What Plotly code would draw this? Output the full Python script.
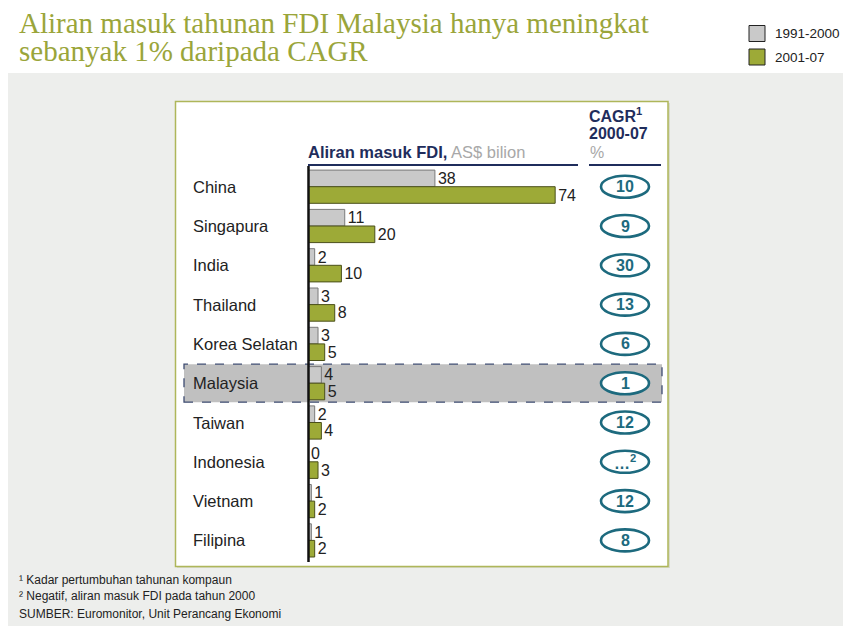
import plotly.graph_objects as go

countries = ["China", "Singapura", "India", "Thailand", "Korea Selatan",
             "Malaysia", "Taiwan", "Indonesia", "Vietnam", "Filipina"]
fdi_1991_2000 = [38, 11, 2, 3, 3, 4, 2, 0, 1, 1]
fdi_2001_07 = [74, 20, 10, 8, 5, 5, 4, 3, 2, 2]
cagr_labels = ["10", "9", "30", "13", "6", "1", "12", "…<sup>2</sup>", "12", "8"]
series_names = ["1991-2000", "2001-07"]

W, H = 843, 626
def px(x):
    return x / W
def py(y):
    return 1 - y / H

GRAY = "#C9C9C9"
GREEN = "#9DAA37"
NAVY = "#1F2D5C"
TEAL = "#1D6A7E"
OLIVE = "#9AA53A"
BG = "#EDEEEC"
FONT = "Liberation Sans, Arial"

X0, SCALE, XMAX = 308, 3.34, 80
ROW0, ROWSTEP = 186.7, 39.3
ytop = ROW0 - ROWSTEP / 2
ybot = ROW0 + 9 * ROWSTEP + ROWSTEP / 2

fig = go.Figure()
fig.add_trace(go.Bar(
    y=countries, x=fdi_1991_2000, orientation="h", name=series_names[0],
    marker=dict(color=GRAY, line=dict(color="#7A7A7A", width=1)),
    text=[str(v) for v in fdi_1991_2000], textposition="outside",
    textfont=dict(family=FONT, size=16, color="#222222"),
    cliponaxis=False, constraintext="none", hoverinfo="skip"))
fig.add_trace(go.Bar(
    y=countries, x=fdi_2001_07, orientation="h", name=series_names[1],
    marker=dict(color=GREEN, line=dict(color="#4A4F1A", width=1)),
    text=[str(v) for v in fdi_2001_07], textposition="outside",
    textfont=dict(family=FONT, size=16, color="#222222"),
    cliponaxis=False, constraintext="none", hoverinfo="skip"))

shapes = []
annotations = []

# background
shapes.append(dict(type="rect", xref="paper", yref="paper", x0=px(8), x1=1.05,
                   y0=-0.05, y1=py(73), fillcolor=BG, line=dict(width=0), layer="below"))
# panel shadow + panel
shapes.append(dict(type="rect", xref="paper", yref="paper", x0=px(177), x1=px(670),
                   y0=py(568), y1=py(103), fillcolor="#D8DBCB", line=dict(width=0), layer="below"))
shapes.append(dict(type="rect", xref="paper", yref="paper", x0=px(175.5), x1=px(668),
                   y0=py(566.5), y1=py(101.5), fillcolor="white",
                   line=dict(color="#AEB65A", width=1.5), layer="below"))
# Malaysia highlight
mi = countries.index("Malaysia")
my = ROW0 + mi * ROWSTEP
shapes.append(dict(type="rect", xref="paper", yref="paper", x0=px(184), x1=px(662),
                   y0=py(my + 19), y1=py(my - 19), fillcolor="#C0C0C0",
                   line=dict(color="#3E4C72", width=1.3, dash="dash"), layer="below"))
# header lines
shapes.append(dict(type="line", xref="paper", yref="paper", x0=px(308), x1=px(578),
                   y0=py(165), y1=py(165), line=dict(color=NAVY, width=2)))
shapes.append(dict(type="line", xref="paper", yref="paper", x0=px(589), x1=px(661),
                   y0=py(165), y1=py(165), line=dict(color=NAVY, width=2)))
# axis line
shapes.append(dict(type="line", xref="paper", yref="paper", x0=px(308.5), x1=px(308.5),
                   y0=py(166), y1=py(562), line=dict(color="#111111", width=2.5)))

# header texts
annotations.append(dict(x=px(306), y=py(152), xref="paper", yref="paper", xanchor="left",
                        yanchor="middle", showarrow=False,
                        text="<b>Aliran masuk FDI,</b> <span style='color:#A8A8A8'>AS$ bilion</span>",
                        font=dict(family=FONT, size=16.5, color=NAVY)))
annotations.append(dict(x=px(587), y=py(115), xref="paper", yref="paper", xanchor="left",
                        yanchor="middle", showarrow=False, text="<b>CAGR<sup>1</sup></b>",
                        font=dict(family=FONT, size=16, color=NAVY)))
annotations.append(dict(x=px(587), y=py(133), xref="paper", yref="paper", xanchor="left",
                        yanchor="middle", showarrow=False, text="<b>2000-07</b>",
                        font=dict(family=FONT, size=16, color=NAVY)))
annotations.append(dict(x=px(588), y=py(152), xref="paper", yref="paper", xanchor="left",
                        yanchor="middle", showarrow=False, text="%",
                        font=dict(family=FONT, size=16, color="#A8A8A8")))

# country labels and CAGR ellipses
for i, (c, g) in enumerate(zip(countries, cagr_labels)):
    yc = ROW0 + i * ROWSTEP
    annotations.append(dict(x=px(191), y=py(yc), xref="paper", yref="paper", xanchor="left",
                            yanchor="middle", showarrow=False, text=c,
                            font=dict(family=FONT, size=16.5, color="#222222")))
    shapes.append(dict(type="circle", xref="paper", yref="paper", x0=px(601), x1=px(649),
                       y0=py(yc + 11), y1=py(yc - 11), fillcolor="white",
                       line=dict(color=TEAL, width=2.6)))
    annotations.append(dict(x=px(625), y=py(yc), xref="paper", yref="paper", xanchor="center",
                            yanchor="middle", showarrow=False, text="<b>" + g + "</b>",
                            font=dict(family=FONT, size=16, color=TEAL)))

# title (two lines)
title_lines = ["Aliran masuk tahunan FDI Malaysia hanya meningkat", "sebanyak 1% daripada CAGR"]
for t, yc in zip(title_lines, [23, 51]):
    annotations.append(dict(x=px(17), y=py(yc), xref="paper", yref="paper", xanchor="left",
                            yanchor="middle", showarrow=False, text=t,
                            font=dict(family="Liberation Serif, serif", size=29, color=OLIVE)))

# legend
leg_cols = [GRAY, GREEN]
for k, (name, col) in enumerate(zip(series_names, leg_cols)):
    yc = 33.5 + k * 23.5
    shapes.append(dict(type="rect", xref="paper", yref="paper", x0=px(749), x1=px(765),
                       y0=py(yc + 8), y1=py(yc - 8), fillcolor=col,
                       line=dict(color="#222222", width=1)))
    annotations.append(dict(x=px(773), y=py(yc), xref="paper", yref="paper", xanchor="left",
                            yanchor="middle", showarrow=False, text=name,
                            font=dict(family=FONT, size=13.5, color="#222222")))

# footnotes
foot = ["¹ Kadar pertumbuhan tahunan kompaun",
        "² Negatif, aliran masuk FDI pada tahun 2000",
        "SUMBER: Euromonitor, Unit Perancang Ekonomi"]
for t, yy in zip(foot, [580, 596, 614]):
    annotations.append(dict(x=px(17), y=py(yy), xref="paper", yref="paper", xanchor="left",
                            yanchor="middle", showarrow=False, text=t,
                            font=dict(family=FONT, size=12, color="#222222")))

fig.update_layout(
    width=W, height=H, autosize=False,
    margin=dict(l=0, r=0, t=0, b=0),
    paper_bgcolor="white", plot_bgcolor="rgba(0,0,0,0)",
    barmode="group", bargap=0.155, bargroupgap=0,
    showlegend=False,
    xaxis=dict(domain=[px(X0), px(X0 + SCALE * XMAX)], range=[0, XMAX],
               showgrid=False, zeroline=False, showticklabels=False, showline=False,
               fixedrange=True),
    yaxis=dict(domain=[py(ybot), py(ytop)], type="category",
               categoryorder="array", categoryarray=countries,
               range=[len(countries) - 0.5, -0.5],
               showgrid=False, zeroline=False, showticklabels=False, showline=False,
               fixedrange=True),
    shapes=shapes, annotations=annotations,
)

fig.write_html("out.html", config={"displayModeBar": False},
               post_script="document.body.style.margin='0';document.body.style.overflow='hidden';")
